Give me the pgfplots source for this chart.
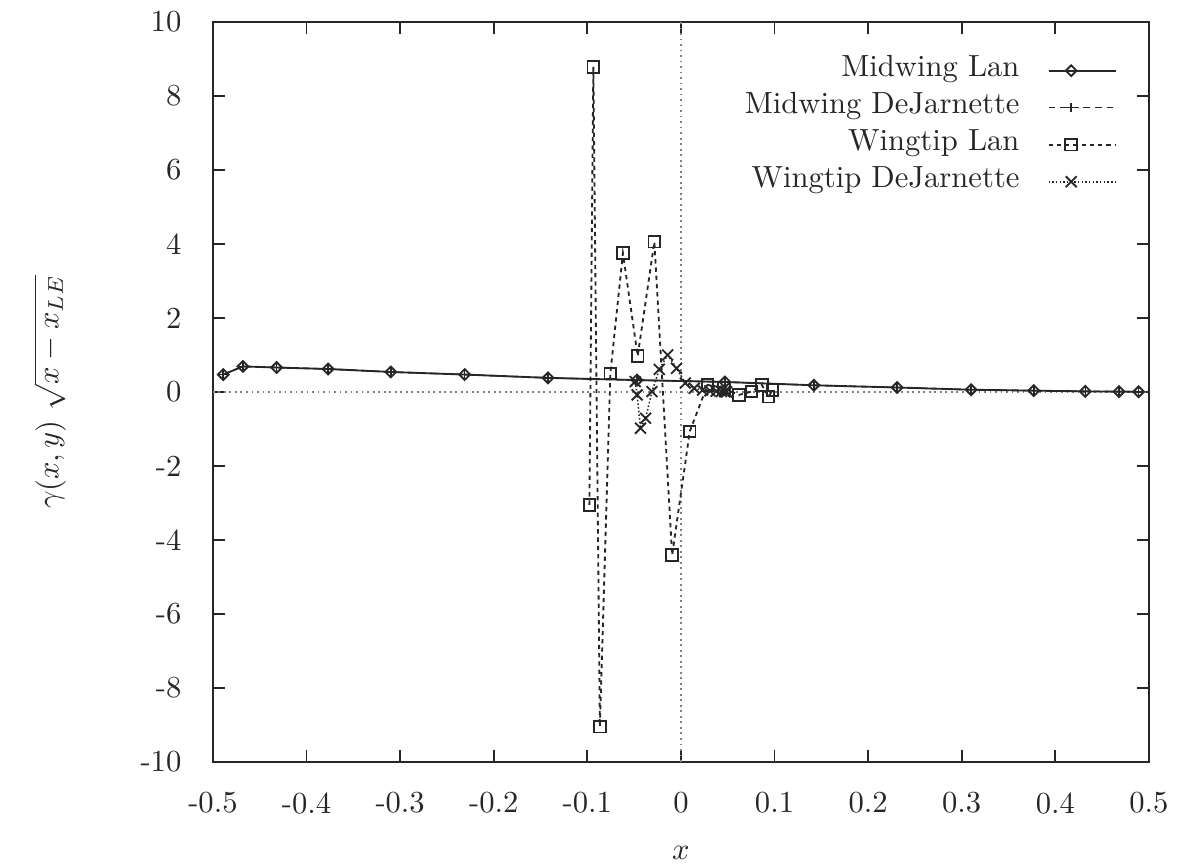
\documentclass[border=0pt]{standalone}
\usepackage{pgfplots}
\pgfplotsset{compat=1.18}

% Circulation distribution along the chord, midwing and wingtip stations
\pgfplotstableread{
x       g
-0.489  0.47
-0.468  0.69
-0.432  0.66
-0.377  0.62
-0.310  0.54
-0.231  0.47
-0.142  0.38
-0.047  0.32
 0.047  0.27
 0.142  0.18
 0.231  0.12
 0.310  0.06
 0.377  0.035
 0.432  0.015
 0.468  0.01
 0.489  0.005
}\midlan

\pgfplotstableread{
x       g
-0.489  0.47
-0.468  0.69
-0.432  0.66
-0.377  0.62
-0.310  0.54
-0.231  0.47
-0.142  0.38
-0.047  0.32
 0.047  0.27
 0.142  0.18
 0.231  0.12
 0.310  0.06
 0.377  0.035
 0.432  0.015
 0.468  0.01
 0.489  0.005
}\middej

\pgfplotstableread{
x        g
-0.0978  -3.05
-0.0936   8.79
-0.0866  -9.05
-0.0754   0.50
-0.0620   3.75
-0.0462   0.97
-0.0284   4.06
-0.0094  -4.41
 0.0094  -1.07
 0.0284   0.19
 0.0462   0.10
 0.0620  -0.08
 0.0754   0.01
 0.0864   0.19
 0.0936  -0.13
 0.0978   0.05
}\tiplan

\pgfplotstableread{
x        g
-0.0489   0.28
-0.0468  -0.08
-0.0432  -0.98
-0.0377  -0.71
-0.0310   0.01
-0.0231   0.61
-0.0142   1.00
-0.0047   0.64
 0.0047   0.24
 0.0142   0.10
 0.0231   0.05
 0.0310   0.03
 0.0377   0.02
 0.0432   0.01
 0.0468   0.005
 0.0489   0.00
}\tipdej

\definecolor{ink}{HTML}{262626}

\begin{document}
\begin{tikzpicture}
\useasboundingbox (-69.6pt,-34.3pt) rectangle (315.4pt,249.0pt);
\begin{axis}[
  scale only axis,
  width=305.9pt, height=241.8pt,
  at={(0pt,0pt)}, anchor=south west,
  xmin=-0.5, xmax=0.5, ymin=-10, ymax=10,
  xtick={-0.5,-0.4,-0.3,-0.2,-0.1,0,0.1,0.2,0.3,0.4,0.5},
  xticklabels={-0.5,-0.4,-0.3,-0.2,-0.1,0,0.1,0.2,0.3,0.4,0.5},
  ytick={-10,-8,-6,-4,-2,0,2,4,6,8,10},
  yticklabels={-10,-8,-6,-4,-2,0,2,4,6,8,10},
  tick align=inside,
  major tick length=4pt,
  every tick/.style={ink, line width=0.6pt},
  axis line style={ink, line width=0.7pt},
  xticklabel style={yshift=-6.5pt, text=ink},
  yticklabel style={xshift=-6.8pt, text=ink},
  xlabel={$x$},
  ylabel={$\gamma(x,y)\ \sqrt{x - x_{LE}}$},
  every axis x label/.style={at={(axis description cs:0.5,0)}, anchor=center, yshift=-29.7pt, text=ink},
  every axis y label/.style={at={(axis description cs:0,0.5)}, anchor=center, xshift=-53.3pt, rotate=90, text=ink},
  legend style={at={(1,1)}, anchor=north east, xshift=-10.1pt, yshift=-9.65pt,
    draw=none, fill=none, inner sep=0pt, row sep=0pt, text=ink,
    nodes={inner xsep=0pt, inner ysep=0pt, text height=8pt, text depth=4.1pt},
    /tikz/every odd column/.append style={column sep=9.2pt}},
  legend cell align=right,
  legend plot pos=right,
  legend image code/.code={\draw[#1, mark repeat=2, mark phase=2]
    plot coordinates {(0pt,0pt) (7.4pt,0pt) (22.2pt,0pt)};},
]
% zero axes
\addplot[forget plot, gray, line width=0.5pt, dash pattern=on 0.6pt off 1.2pt] coordinates {(-0.5,0) (0.5,0)};
\addplot[forget plot, gray, line width=0.5pt, dash pattern=on 0.6pt off 1.2pt] coordinates {(0,-10) (0,10)};

\addplot[ink, line width=0.6pt, mark=square, mark size=1.25pt, mark options={solid, rotate=45, fill=white}]
  table[x=x, y=g] {\midlan};
\addlegendentry{Midwing Lan}

\addplot[ink, line width=0.5pt, dash pattern=on 2.2pt off 1.6pt, mark=+, mark size=1.5pt, mark options={solid}]
  table[x=x, y=g] {\middej};
\addlegendentry{Midwing DeJarnette}

\addplot[ink, line width=0.6pt, dash pattern=on 1.4pt off 1.3pt, mark=square, mark size=1.9pt, mark options={solid}]
  table[x=x, y=g] {\tiplan};
\addlegendentry{Wingtip Lan}

\addplot[ink, line width=0.5pt, dash pattern=on 0.5pt off 0.7pt, mark=x, mark size=2.5pt, mark options={solid, line width=0.6pt}]
  table[x=x, y=g] {\tipdej};
\addlegendentry{Wingtip DeJarnette}
\end{axis}
\end{tikzpicture}
\end{document}
